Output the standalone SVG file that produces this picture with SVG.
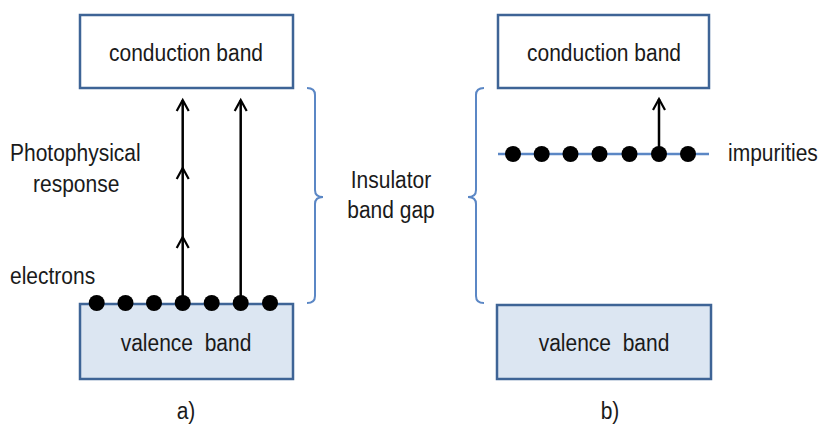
<svg xmlns="http://www.w3.org/2000/svg" width="825" height="424" viewBox="0 0 825 424">
<defs>
<marker id="chev" markerUnits="userSpaceOnUse" markerWidth="20" markerHeight="20" refX="0" refY="0" orient="auto" overflow="visible">
<path d="M-11,-6 L0,0 L-11,6" fill="none" stroke="#000" stroke-width="2.2" stroke-linejoin="miter"/>
</marker>
<style>
.t{font-family:"Liberation Sans",Arial,sans-serif;font-size:21px;fill:#1a1a1a}
.m{text-anchor:middle}
.cb{fill:#fff;stroke:#3e6496;stroke-width:2.5}
.vb{fill:#dce6f2;stroke:#3e6496;stroke-width:2.5}
.br{fill:none;stroke:#5b87c5;stroke-width:2}
.ar{stroke:#000;stroke-width:2.5;marker-end:url(#chev)}
.dot{fill:#000}
</style>
</defs>
<rect width="825" height="424" fill="#fff"/>

<g id="cond-a"><rect class="cb" x="80" y="15" width="213" height="73"/><text class="t m" transform="translate(186,61) scale(1,1.13)">conduction band</text></g>
<g id="val-a"><rect class="vb" x="80" y="304" width="213" height="75"/><text class="t m" transform="translate(186,351) scale(1,1.13)" xml:space="preserve">valence  band</text></g>
<g id="cond-b"><rect class="cb" x="498" y="15" width="211" height="73"/><text class="t m" transform="translate(604,61) scale(1,1.13)">conduction band</text></g>
<g id="val-b"><rect class="vb" x="497" y="305" width="214" height="74"/><text class="t m" transform="translate(604,351) scale(1,1.13)" xml:space="preserve">valence  band</text></g>

<g id="impurity-line"><line x1="498" y1="154" x2="709" y2="154" stroke="#5b87c5" stroke-width="2.5"/></g>

<g id="connectors">
<line class="ar" x1="182.7" y1="303" x2="182.7" y2="237"/>
<line class="ar" x1="182.7" y1="237" x2="182.7" y2="168"/>
<line class="ar" x1="182.7" y1="168" x2="182.7" y2="100"/>
<line class="ar" x1="240.7" y1="303" x2="240.7" y2="100"/>
<line class="ar" x1="659" y1="154" x2="659" y2="99"/>
</g>

<g id="electrons-a">
<circle class="dot" cx="96.7" cy="303" r="8"/><circle class="dot" cx="125.5" cy="303" r="8"/><circle class="dot" cx="154" cy="303" r="8"/><circle class="dot" cx="182.7" cy="303" r="8"/><circle class="dot" cx="211.7" cy="303" r="8"/><circle class="dot" cx="240.7" cy="303" r="8"/><circle class="dot" cx="270" cy="303" r="8"/>
</g>
<g id="electrons-b">
<circle class="dot" cx="513" cy="154" r="8"/><circle class="dot" cx="541.7" cy="154" r="8"/><circle class="dot" cx="570.5" cy="154" r="8"/><circle class="dot" cx="599.5" cy="154" r="8"/><circle class="dot" cx="629.5" cy="154" r="8"/><circle class="dot" cx="659" cy="154" r="8"/><circle class="dot" cx="688" cy="154" r="8"/>
</g>

<g id="bracket-a"><path class="br" d="M307,88 Q315,88 315,95 L315,190 Q315,197 323,197 Q315,197 315,204 L315,296 Q315,303 307,303"/></g>
<g id="bracket-b"><path class="br" d="M484,88 Q476,88 476,95 L476,190 Q476,197 468,197 Q476,197 476,204 L476,296 Q476,303 484,303"/></g>

<g id="labels">
<text class="t" transform="translate(10,161) scale(1,1.13)">Photophysical</text>
<text class="t" transform="translate(33,192) scale(1,1.13)">response</text>
<text class="t" transform="translate(10,284) scale(1,1.13)">electrons</text>
<text class="t m" transform="translate(391,188) scale(1,1.13)">Insulator</text>
<text class="t m" transform="translate(391,218) scale(1,1.13)">band gap</text>
<text class="t" transform="translate(728,161) scale(1,1.13)">impurities</text>
<text class="t m" transform="translate(186,419) scale(1,1.13)">a)</text>
<text class="t m" transform="translate(610,419) scale(1,1.13)">b)</text>
</g>
</svg>
